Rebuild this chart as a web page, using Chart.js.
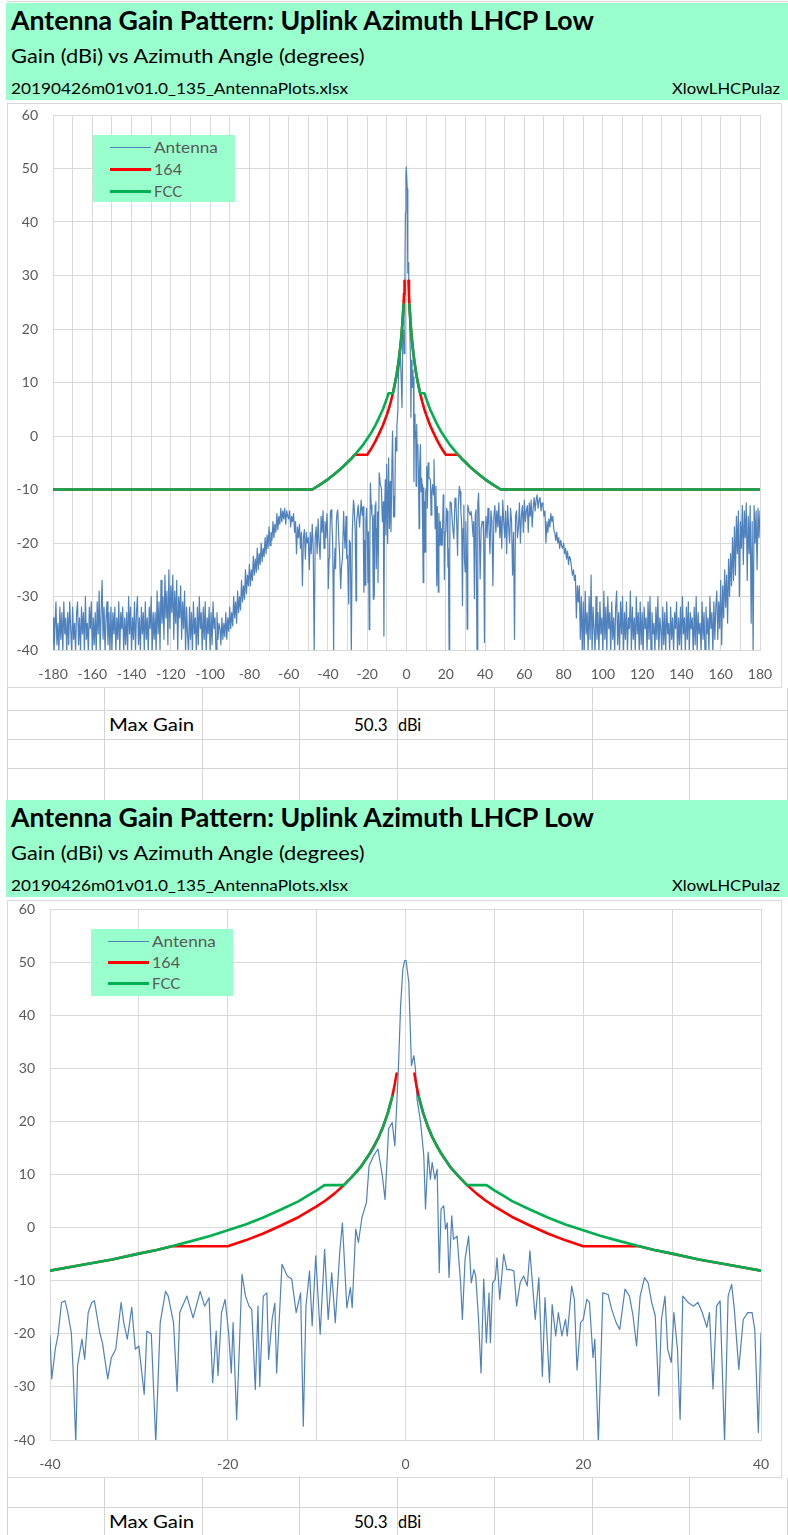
<!DOCTYPE html>
<html>
<head>
<meta charset="utf-8">
<script src="https://cdn.jsdelivr.net/npm/chart.js@4.4.1/dist/chart.umd.min.js"></script>
<style>
  body { margin: 0; width: 788px; height: 1535px; position: relative; overflow: hidden; background: #fff; font-family: Lato, "Open Sans", sans-serif; }
  .hdr { position: absolute; left: 6px; width: 782px; background: #99FFCC; }
  .txt { position: absolute; white-space: nowrap; line-height: 1.2; transform-origin: 0 50%; }
  .ln { position: absolute; background: #D4D4D4; }
  .box { position: absolute; left: 7px; width: 775px; border: 1px solid #D9D9D9; box-sizing: border-box; background: #fff; }
  .legend { position: absolute; background: #99FFCC; }
  .swatch { position: absolute; }
  canvas { position: absolute; left: 7px; }
</style>
</head>
<body>
<canvas id="c1" width="775" height="585" style="top:103px;width:775px;height:585px"></canvas>
<canvas id="c2" width="775" height="578" style="top:900px;width:775px;height:578px"></canvas>
<script>
// 안테나 측정값: 바깥 구간은 0.5도 간격
const outerStep = 0.5;
const outerLeftStart = -180;
const outerLeftGain = [
  // -180 ~ -150.5
  -34, -40.5, -36, -31, -39, -35, -40.5, -32, -38, -33,
  -40.5, -31, -37, -34, -40.5, -33, -39, -31, -36, -40.5,
  -32, -38, -35, -40.5, -33, -31, -39, -34, -40.5, -32,
  -37, -33, -40.5, -30, -38, -35, -40.5, -32, -36, -31,
  -40.5, -34, -39, -33, -40.5, -31, -37, -29, -40.5, -33,
  -27, -38, -32, -40.5, -34, -31, -39, -33, -40.5, -32,
  // -150 ~ -128.5
  -40.5, -33, -37, -32, -40.5, -34, -38, -31, -40.5, -33,
  -36, -32, -40.5, -34, -39, -33, -40.5, -30, -37, -32,
  -40.5, -34, -38, -31, -40.5, -33, -30, -39, -34, -40.5,
  -32, -37, -33, -40.5, -31, -38, -34, -40.5, -32, -36,
  -30, -40.5, -33, -38,
  // -128 ~ -111.5
  -33, -40.5, -29, -37, -31, -40, -27, -35, -30, -38,
  -26, -34, -29, -39, -25, -36, -28, -33, -26, -38,
  -29, -35, -27, -40.5, -30, -34, -28, -38, -31, -36,
  -29, -40.5, -32, -37,
  // -111 ~ -95.5
  -40.5, -32, -38, -33, -40.5, -31, -37, -34, -40.5, -32,
  -39, -30, -36, -33, -40.5, -32, -38, -31, -40.5, -34,
  -37, -32, -40.5, -33, -39, -31, -36, -34, -40.5, -33,
  -38, -35,
  // -95 ~ -40.5
  -36, -39, -34, -38, -35, -37.5, -33, -38, -34, -36.5,
  -32, -36, -33, -35.5, -30, -34, -31, -35, -29, -33,
  -30, -32.5, -27, -31, -28, -30.5, -25, -29.5, -26, -28,
  -24, -28, -25, -27, -22.5, -26, -23, -25.5, -21, -25,
  -22, -24, -20, -23.5, -21, -22.5, -19, -22, -18.5, -21,
  -17, -20.5, -18, -19.5, -16, -19, -16.5, -18, -14.5, -17.5,
  -15, -16.5, -13.5, -16, -14, -15.5, -13.5, -16.5, -14, -15,
  -15.5, -14, -17, -15, -16, -14.5, -18, -16, -22, -17,
  -19, -16.5, -21, -18, -28, -19, -17.5, -23, -18, -20,
  -19, -25, -18, -22, -16.5, -21, -40.5, -19, -17, -22,
  -15.5, -20, -23, -15, -18, -14, -21, -16, -19, -14.5
];
const outerRightStart = 40.5;
const outerRightGain = [
  // 40.5 ~ 49.5
  -15, -19, -13.5, -17, -22, -14, -16, -28, -15, -13, -18, -14, -17, -12.5, -19, -15, -21, -12, -16,
  // 50 ~ 89.5
  -19, -14, -22, -13, -17, -20, -13.5, -16, -26, -18, -38, -15, -14, -19, -17, -12.5, -20, -15, -13, -18,
  -12, -16, -14, -13, -18, -12.5, -15, -12, -17, -13.5, -11.5, -14, -12, -11, -13.5, -12, -11.5, -14, -12.5, -13,
  -15, -14, -20, -16, -18, -15.5, -17, -14.5, -16, -15, -17.5, -18, -19.5, -18, -20, -19, -21, -19.5, -20.5, -21,
  -20, -22, -21, -23, -21.5, -24, -22.5, -23, -24.5, -26, -25, -27, -26, -34, -28, -31, -28, -38, -30, -40.5,
  // 90 ~ 157.5
  -31, -40.5, -29, -37, -33, -40.5, -30, -38, -26, -40.5,
  -32, -36, -40.5, -30, -38, -33, -40.5, -31, -37, -34,
  -40.5, -29, -38, -32, -40.5, -30, -36, -33, -40.5, -31,
  -38, -34, -40.5, -32, -29, -39, -33, -40.5, -31, -37,
  -30, -40.5, -33, -38, -31, -40.5, -34, -36, -29, -40.5,
  -32, -38, -34, -40.5, -30, -37, -33, -40.5, -31, -39,
  -33, -40.5, -32, -36, -34, -40.5, -31, -38, -30, -40.5,
  -33, -37, -35, -40.5, -32, -38, -30, -40.5, -34, -36,
  -40.5, -32, -39, -33, -40.5, -31, -37, -35, -40.5, -32,
  -38, -34, -40.5, -33, -36, -31, -40.5, -34, -39, -32,
  -40.5, -30, -37, -34, -40.5, -32, -38, -31, -40.5, -33,
  -36, -34, -40.5, -32, -39, -30, -40.5, -33, -37, -35,
  -40.5, -31, -38, -33, -40.5, -32, -37, -34, -40.5, -30, -36, -33, -40.5, -31, -38, -32,
  // 158 ~ 166.5
  -29, -38, -31, -36, -27, -39, -28, -34, -25, -32, -26, -35, -23, -30, -22, -28, -19, -27,
  // 167 ~ 180
  -17, -26, -15, -22, -14, -30, -16, -21, -13, -24, -14, -19, -12.5, -27, -15, -22, -13, -35, -16, -40.5,
  -13, -20, -14, -25, -13.5, -19, -14
];

// 중앙 구간 (-40 ~ 40도) 각도와 이득
const centerAz = [
  -40, -39.8, -39.4, -39.1, -38.7, -38.3, -38.0, -37.6, -37.4, -37.1, -36.9, -36.4, -36.1, -35.7, -35.3,
  -35.0, -34.4, -34.1, -33.5, -33.1, -32.6, -32.0, -31.7, -31.3, -30.8, -30.4, -30.0, -29.4, -29.1, -28.6,
  -28.1, -27.6, -27.0, -26.7, -26.1, -25.7, -25.4, -24.6, -23.9, -23.1, -22.6, -22.1, -21.7, -21.3, -21.1,
  -20.7, -20.3, -19.9, -19.6, -19.4, -19.0, -18.7, -18.4, -18.0, -17.6, -17.3, -16.9, -16.6, -16.4, -16.0,
  -15.6, -15.4, -15.0, -14.7, -14.5, -13.9, -13.3, -12.8, -12.3, -11.8, -11.5, -11.2, -10.8, -10.5, -10.1,
  -9.6, -9.1, -8.7, -8.3, -7.9, -7.4, -7.1, -6.6, -6.2, -6.0, -5.6, -5.3, -4.9, -4.4, -4.1,
  -3.6, -3.1, -2.6, -2.3, -1.9, -1.5, -1.2, -0.8, -0.55, -0.3, -0.1,
  0.07, 0.37, 0.67, 0.94, 1.12, 1.3, 1.7, 2.06, 2.25, 2.55, 2.8, 3.0, 3.3, 3.56, 3.8,
  4.0, 4.3, 4.5, 4.7, 4.9, 5.2, 5.4, 5.8, 6.2, 6.4, 6.7, 7.1, 7.4, 7.7, 7.9,
  8.2, 8.5, 8.8, 9.1, 9.4, 9.55, 9.8, 10.1, 10.3, 10.6, 11.05, 11.4, 11.8, 12.2, 12.5,
  12.9, 13.3, 13.7, 14.0, 14.6, 15.0, 15.4, 15.7, 16.2, 16.5, 16.9, 17.2, 17.6, 18.0, 18.2,
  18.7, 19.0, 19.3, 19.7, 20.0, 20.4,
  20.7, 21.1, 21.3, 21.7, 22.0, 22.2, 22.8, 23.2, 23.7, 24.1, 24.7, 25.2, 25.6, 26.0, 26.4,
  26.9, 27.3, 27.7, 28.1, 28.5, 28.8, 29.2, 29.5, 29.9, 30.2, 30.6, 30.9, 31.2, 31.8, 32.4,
  32.9, 33.4, 33.9, 34.2, 34.6, 35.0, 35.4, 35.9, 36.3, 36.7, 37.0, 37.5, 38.0, 38.5, 39.0,
  39.3, 39.7, 40.0
];
const centerGain = [
  -20.7, -28.5, -22.8, -20.3, -14.1, -13.8, -16, -19.8, -26.7, -40.5, -26, -21, -24.8, -16, -14.1,
  -13.8, -19.8, -21.7, -28.5, -24.5, -22.9, -14.1, -17.9, -21, -15, -22.9, -22.3, -31.4, -19.5, -20,
  -40.5, -17.9, -12, -12.9, -17.9, -30.8, -16, -12.9, -17, -12, -14.8, -13.2, -29.2, -19.5, -27.9,
  -16, -13.5, -19.8, -27.4, -17.9, -36.2, -23, -8.8, -12.9, -14.8, -15.4, -30.5, -14.8, -29.9, -12.9,
  -12.3, -24.8, -17.2, -14.2, -27.4, -6.9, -9.1, -9.7, -16, -12.3, -37.4, -14.8, -8.2, -18.5, -5.3,
  -20.1, -4.1, -17.3, -8.5, -17.9, -4.7, 0.9, -15.1, -11.3, -15.1, -0.3, -2.8, 1.9, 4.7, 11.6,
  13.5, 14.8, 9.7, 5.3, 18.6, 19.8, 15.4, 29.9, 41.8, 48.7, 50.3,
  50.3, 46.2, 30.5, 32.4, 29.9, 24.2, 19.8, 13.5, 3.5, 14.2, 9.1, 12.3, 9.1, 11, -8.5,
  3.5, 4.1, -0.3, 0.9, -9.4, 2.2, -2.2, -1.6, -10.4, -17.3, -6, -1.6, -10.4, -7.9, -9.1,
  -16.7, -27.4, -9.7, -21.7, -12.3, -21.7, -10.4, -9.7, -5.7, -13.5, -5, -7.9, -7.9, -8.2, -14.8,
  -10.4, -9.1, -11, -4.4, -17.3, -9.4, -28, -13.2, -29.2, -14.5, -20.4, -16, -20.4, -17.3, -20.4,
  -11, -13.5, -26.8, -17.9, -17.3, -13.5,
  -14.1, -24.5, -21, -40.5, -24.2, -12.3, -12.6, -15.4, -17.9, -19.2, -11.6, -12.9, -16.6, -22.3, -12.9,
  -9.4, -10.4, -14.1, -16.6, -31.7, -17.3, -12.9, -22.9, -25.4, -16, -22.9, -36.1, -12.9, -14.1, -14.8,
  -14.1, -16, -18.8, -16, -30.4, -14.8, -13.8, -40.5, -12.9, -10.7, -15.4, -26.7, -17.3, -16, -16,
  -19.2, -38.6, -19.8
];

// FCC 마스크
const fccAz = [-180, -48, -44, -40, -36, -33, -30, -28, -26.3, -24, -22, -20, -18, -16, -14, -12, -11, -10, -9.12, -6.92,
  -6, -5, -4, -3.5, -3, -2.5, -2, -1.5, 0, 1.5, 2, 2.5, 3, 3.5, 4, 5, 6, 6.92, 9.12, 10,
  11, 12, 14, 16, 18, 20, 22, 24, 26.3, 28, 30, 33, 36, 40, 44, 48, 180];
const fccGain = [-10, -10, -9.1, -8.1, -6.9, -6.0, -4.9, -4.2, -3.5, -2.5, -1.6, -0.5, 0.6, 1.9, 3.4, 5.0, 6.0, 7.0, 8, 8,
  9.6, 11.5, 14.0, 15.4, 17.1, 19.1, 21.5, 24.6, null, 24.6, 21.5, 19.1, 17.1, 15.4, 14.0, 11.5, 9.6, 8, 8, 7.0,
  6.0, 5.0, 3.4, 1.9, 0.6, -0.5, -1.6, -2.5, -3.5, -4.2, -4.9, -6.0, -6.9, -8.1, -9.1, -10, -10];

// 164 마스크
const lim164Az = [-180, -48, -44, -40, -36, -33, -30, -28, -26.3, -20, -18, -16, -14, -12, -10, -9, -8, -7, -6, -5,
  -4, -3, -2.5, -2, -1.5, -1.25, -1, 0, 1, 1.25, 1.5, 2, 2.5, 3, 4, 5, 6, 7, 8, 9,
  10, 12, 14, 16, 18, 20, 26.3, 28, 30, 33, 36, 40, 44, 48, 180];
const lim164Gain = [-10, -10, -9.1, -8.1, -6.9, -6.0, -4.9, -4.2, -3.5, -3.5, -2.4, -1.1, 0.4, 2.0, 4.0, 5.1, 6.4, 7.9, 9.6, 11.5,
  14.0, 17.1, 19.1, 21.5, 24.6, 26.6, 29, null, 29, 26.6, 24.6, 21.5, 19.1, 17.1, 14.0, 11.5, 9.6, 7.9, 6.4, 5.1,
  4.0, 2.0, 0.4, -1.1, -2.4, -3.5, -3.5, -4.2, -4.9, -6.0, -6.9, -8.1, -9.1, -10, -10];

const seriesNames = ['Antenna', '164', 'FCC'];
const seriesColors = ['#4F81BD', '#FF0000', '#00B050'];
const yTicks = { min: -40, max: 60, step: 10 };

const titleText = 'Antenna Gain Pattern: Uplink Azimuth LHCP Low';
const subtitleText = 'Gain (dBi) vs Azimuth Angle (degrees)';
const fileText = '20190426m01v01.0_135_AntennaPlots.xlsx';
const sheetText = 'XlowLHCPulaz';
const maxGain = '50.3';

// 시트 격자선
const cols = [7, 104, 202, 299, 397, 494, 592, 689, 787];

function line(x, y, w, h) {
  const d = document.createElement('div');
  d.className = 'ln';
  Object.assign(d.style, { left: x + 'px', top: y + 'px', width: w + 'px', height: h + 'px' });
  document.body.insertBefore(d, document.body.firstChild);
}

// onTop 이면 캔버스 위에 그림 (범례)
function block(cls, x, y, w, h, onTop) {
  const d = document.createElement('div');
  d.className = cls;
  Object.assign(d.style, { left: x + 'px', top: y + 'px', width: w + 'px', height: h + 'px' });
  if (onTop) document.body.appendChild(d);
  else document.body.insertBefore(d, document.querySelector('canvas'));
  return d;
}

// 기준선(baseline)과 목표 폭으로 텍스트 배치
function text(str, x, base, size, w, opt = {}) {
  const d = document.createElement('div');
  d.className = 'txt';
  d.textContent = str;
  d.style.left = x + 'px';
  d.style.top = (base - 0.987 * size) + 'px';
  d.style.fontSize = size + 'px';
  d.style.fontWeight = opt.bold ? 700 : 400;
  d.style.color = opt.color || '#000';
  document.body.appendChild(d);
  d.style.transform = 'scaleX(' + (w / d.offsetWidth) + ')';
}

function header(top) {
  block('hdr', 6, top, 782, 97);
  text(titleText, 11, top + 28, 26, 583, { bold: true });
  text(subtitleText, 11, top + 61, 19, 354);
  text(fileText, 11, top + 91, 16, 337);
  text(sheetText, 672, top + 91, 16, 108);
}

function legend(x, y, rows) {
  block('legend', x, y, 142, 67, true);
  rows.forEach((ry, i) => {
    const lw = i === 0 ? 1 : 3;
    const s = block('swatch', x + 17, Math.round(ry - lw / 2), 41, lw, true);
    s.style.background = seriesColors[i];
    text(seriesNames[i], x + 61, ry + 5.4, 15, [64, 28, 28][i], { color: '#595959' });
  });
}

function table(base) {
  text('Max Gain', 109, base, 17, 85);
  text(maxGain, 354, base, 17, 34);
  text('dBi', 398, base, 17, 23);
}

// 패널 1
line(7, 1, 781, 1);
header(3);
block('box', 7, 103, 775, 585);
cols.forEach(x => line(x, 688, 1, 112));
[710, 739, 768].forEach(y => line(7, y, 781, 1));
legend(93, 135, [147, 169, 191]);
table(732);

// 패널 2
header(800);
block('box', 7, 900, 775, 578);
cols.forEach(x => line(x, 1478, 1, 57));
line(7, 1507, 781, 1);
legend(91, 929, [941, 962, 983]);
table(1529);

// 데이터 조립
function antennaPoints() {
  const pts = [];
  outerLeftGain.forEach((g, i) => pts.push({ x: outerLeftStart + i * outerStep, y: g }));
  centerAz.forEach((a, i) => pts.push({ x: a, y: centerGain[i] }));
  outerRightGain.forEach((g, i) => pts.push({ x: outerRightStart + i * outerStep, y: g }));
  return pts;
}

function pairs(xs, ys) {
  return xs.map((x, i) => ({ x: x, y: ys[i] }));
}

function makeChart(id, xMin, xMax, area) {
  const canvas = document.getElementById(id);
  const tickFont = { family: 'Lato', size: 14 };
  const common = { color: '#595959', font: tickFont, autoSkip: false, maxRotation: 0, padding: 0 };
  const gridBase = { color: '#D9D9D9', drawTicks: true, tickColor: 'rgba(0,0,0,0)' };
  const chart = new Chart(canvas, {
    type: 'scatter',
    data: {
      datasets: [
        { label: seriesNames[0], data: antennaPoints(), showLine: true, borderColor: seriesColors[0], borderWidth: 1.2, pointRadius: 0, order: 3 },
        { label: seriesNames[1], data: pairs(lim164Az, lim164Gain), showLine: true, borderColor: seriesColors[1], borderWidth: 2.6, pointRadius: 0, spanGaps: false, order: 2 },
        { label: seriesNames[2], data: pairs(fccAz, fccGain), showLine: true, borderColor: seriesColors[2], borderWidth: 2.6, pointRadius: 0, spanGaps: false, order: 1 }
      ]
    },
    options: {
      responsive: false,
      animation: false,
      devicePixelRatio: 1,
      events: [],
      elements: { line: { borderJoinStyle: 'round', borderCapStyle: 'round', tension: 0 } },
      layout: { padding: { top: area.top, right: canvas.width - area.right, left: 0, bottom: 0 } },
      plugins: { legend: { display: false }, tooltip: { enabled: false } },
      scales: {
        x: {
          type: 'linear', min: xMin, max: xMax,
          ticks: Object.assign({ stepSize: 10, callback: v => (v % 20 === 0 ? v : '') }, common),
          grid: Object.assign({ tickLength: 16 }, gridBase),
          border: { color: '#D9D9D9' },
          afterFit: s => { s.height = canvas.height - area.bottom; }
        },
        y: {
          min: yTicks.min, max: yTicks.max,
          ticks: Object.assign({ stepSize: yTicks.step }, common),
          grid: Object.assign({ tickLength: 15 }, gridBase),
          border: { color: '#D9D9D9' },
          afterFit: s => { s.width = area.left; }
        }
      }
    }
  });
  // 플롯 영역을 원본 위치에 맞춤
  for (let k = 0; k < 3; k++) {
    const a = chart.chartArea;
    const p = chart.options.layout.padding;
    const dTop = area.top - a.top;
    const dRight = a.right - area.right;
    if (Math.abs(dTop) < 0.5 && Math.abs(dRight) < 0.5) break;
    p.top += dTop;
    p.right += dRight;
    chart.update('none');
  }
  return chart;
}

makeChart('c1', -180, 180, { left: 46, right: 753, top: 12, bottom: 547 });
makeChart('c2', -40, 40, { left: 43, right: 754, top: 9, bottom: 540 });
</script>
</body>
</html>
